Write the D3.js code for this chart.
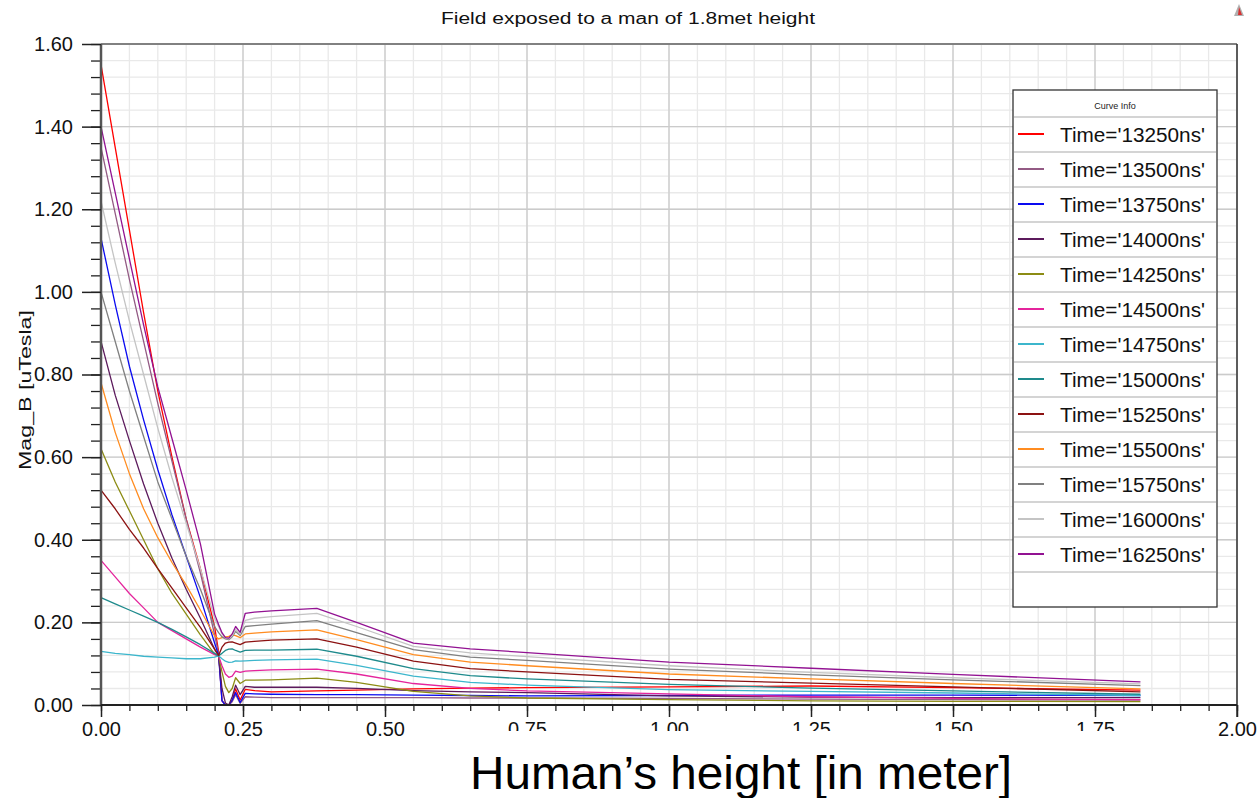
<!DOCTYPE html>
<html>
<head>
<meta charset="utf-8">
<script src="https://cdn.jsdelivr.net/npm/d3@7"></script>
<style>
    html, body { margin: 0; padding: 0; background: #fff; }
    svg { display: block; font-family: "Liberation Sans", Arial, sans-serif; }
</style>
</head>
<body>
<svg id="chart" width="1258" height="798"></svg>
<script>
//  heights along the man [m] where each curve is sampled
const heights = [0, 0.025, 0.05, 0.075, 0.1, 0.125, 0.15, 0.175, 0.2, 0.207, 0.213, 0.219, 0.225, 0.231, 0.237,
    0.245, 0.254, 0.27, 0.3, 0.38, 0.45, 0.55, 0.65, 0.75, 1.0, 1.25, 1.5, 1.83];

//  Mag_B [uTesla], one array per time step
const t13250 = [1.55, 1.35, 1.15, 0.95, 0.76, 0.60, 0.45, 0.33, 0.19, 0.13, 0.01, 0.0, 0.0, 0.01, 0.039,
    0.012, 0.038, 0.035, 0.032, 0.034, 0.036, 0.039, 0.041, 0.042, 0.044, 0.046, 0.042, 0.036];
const t13500 = [1.35, 1.19, 1.03, 0.88, 0.73, 0.59, 0.45, 0.32, 0.17, 0.125, 0.012, 0.0, 0.0, 0.008, 0.025,
    0.004, 0.02, 0.019, 0.018, 0.018, 0.018, 0.018, 0.017, 0.017, 0.016, 0.014, 0.013, 0.012];
const t13750 = [1.13, 0.97, 0.82, 0.69, 0.57, 0.46, 0.36, 0.26, 0.15, 0.12, 0.01, 0.0, 0.0, 0.012, 0.03,
    0.006, 0.028, 0.027, 0.026, 0.025, 0.025, 0.024, 0.023, 0.022, 0.023, 0.024, 0.024, 0.023];
const t14000 = [0.88, 0.75, 0.64, 0.535, 0.44, 0.355, 0.28, 0.21, 0.135, 0.119, 0.04, 0.005, 0.0, 0.02, 0.048,
    0.025, 0.045, 0.043, 0.043, 0.043, 0.04, 0.035, 0.032, 0.030, 0.022, 0.019, 0.018, 0.018];
const t14250 = [0.62, 0.54, 0.47, 0.40, 0.33, 0.27, 0.22, 0.17, 0.123, 0.119, 0.08, 0.045, 0.03, 0.04, 0.066,
    0.052, 0.06, 0.06, 0.061, 0.065, 0.055, 0.033, 0.022, 0.017, 0.013, 0.010, 0.009, 0.008];
const t14500 = [0.35, 0.31, 0.27, 0.235, 0.20, 0.18, 0.16, 0.14, 0.122, 0.119, 0.095, 0.075, 0.067, 0.07, 0.082,
    0.079, 0.082, 0.083, 0.085, 0.087, 0.075, 0.052, 0.040, 0.034, 0.027, 0.020, 0.016, 0.013];
const t14750 = [0.13, 0.125, 0.122, 0.118, 0.116, 0.114, 0.112, 0.112, 0.116, 0.119, 0.112, 0.106, 0.103, 0.104, 0.107,
    0.106, 0.107, 0.108, 0.109, 0.111, 0.096, 0.07, 0.055, 0.048, 0.037, 0.033, 0.029, 0.023];
const t15000 = [0.26, 0.245, 0.23, 0.215, 0.20, 0.183, 0.165, 0.146, 0.125, 0.119, 0.125, 0.132, 0.135, 0.136, 0.132,
    0.128, 0.132, 0.133, 0.133, 0.135, 0.118, 0.088, 0.071, 0.063, 0.050, 0.041, 0.034, 0.026];
const t15250 = [0.52, 0.475, 0.425, 0.38, 0.33, 0.283, 0.235, 0.188, 0.135, 0.12, 0.14, 0.15, 0.152, 0.153, 0.15,
    0.146, 0.152, 0.154, 0.157, 0.16, 0.14, 0.106, 0.088, 0.080, 0.062, 0.053, 0.044, 0.032];
const t15500 = [0.78, 0.66, 0.56, 0.475, 0.405, 0.345, 0.29, 0.23, 0.167, 0.16, 0.163, 0.165, 0.166, 0.17, 0.168,
    0.163, 0.172, 0.174, 0.177, 0.182, 0.158, 0.122, 0.104, 0.095, 0.075, 0.063, 0.052, 0.039];
const t15750 = [1.00, 0.88, 0.76, 0.65, 0.54, 0.45, 0.36, 0.28, 0.19, 0.175, 0.165, 0.16, 0.158, 0.165, 0.178,
    0.168, 0.19, 0.192, 0.196, 0.204, 0.175, 0.134, 0.116, 0.108, 0.087, 0.073, 0.061, 0.047];
const t16000 = [1.22, 1.07, 0.93, 0.80, 0.67, 0.55, 0.44, 0.33, 0.21, 0.19, 0.172, 0.162, 0.16, 0.168, 0.183,
    0.172, 0.205, 0.21, 0.214, 0.222, 0.19, 0.142, 0.126, 0.117, 0.095, 0.079, 0.066, 0.051];
const t16250 = [1.40, 1.24, 1.08, 0.92, 0.77, 0.645, 0.52, 0.39, 0.22, 0.195, 0.175, 0.163, 0.162, 0.172, 0.19,
    0.176, 0.222, 0.225, 0.228, 0.234, 0.20, 0.150, 0.136, 0.127, 0.104, 0.089, 0.074, 0.056];

const curveNames = ["Time='13250ns'", "Time='13500ns'", "Time='13750ns'", "Time='14000ns'", "Time='14250ns'",
    "Time='14500ns'", "Time='14750ns'", "Time='15000ns'", "Time='15250ns'", "Time='15500ns'",
    "Time='15750ns'", "Time='16000ns'", "Time='16250ns'"];
const curveValues = [t13250, t13500, t13750, t14000, t14250, t14500, t14750, t15000, t15250, t15500, t15750, t16000, t16250];
const curveColors = ["#ff0000", "#935a84", "#0a0af0", "#5c1a5c", "#8c8c14", "#e4249c", "#3cb6cc",
    "#1e8a8c", "#8c1212", "#ff8c20", "#808080", "#c4c4c4", "#921292"];

const xMajor = [0, 0.25, 0.5, 0.75, 1.0, 1.25, 1.5, 1.75, 2.0];
const yMajor = [0, 0.2, 0.4, 0.6, 0.8, 1.0, 1.2, 1.4, 1.6];

const svg = d3.select("#chart");

const plot = { left: 101, right: 1237, top: 44, bottom: 705 };

const x = d3.scaleLinear().domain([0, 2]).range([plot.left, plot.right]);
const y = d3.scaleLinear().domain([0, 1.6]).range([plot.bottom, plot.top]);

const xMinor = d3.range(0, 2.0001, 0.05).map(d => +d.toFixed(2));
const yMinor = d3.range(0, 1.6001, 0.04).map(d => +d.toFixed(2));

//  grid
const grid = svg.append("g");
grid.selectAll(".vminor").data(xMinor).join("line")
    .attr("x1", d => x(d)).attr("x2", d => x(d)).attr("y1", plot.top).attr("y2", plot.bottom)
    .attr("stroke", "#e9e9e9").attr("stroke-width", 1.3);
grid.selectAll(".hminor").data(yMinor).join("line")
    .attr("x1", plot.left).attr("x2", plot.right).attr("y1", d => y(d)).attr("y2", d => y(d))
    .attr("stroke", "#e9e9e9").attr("stroke-width", 1.3);
grid.selectAll(".vmajor").data(xMajor).join("line")
    .attr("x1", d => x(d)).attr("x2", d => x(d)).attr("y1", plot.top).attr("y2", plot.bottom)
    .attr("stroke", "#cbcbcb").attr("stroke-width", 1.3);
grid.selectAll(".hmajor").data(yMajor).join("line")
    .attr("x1", plot.left).attr("x2", plot.right).attr("y1", d => y(d)).attr("y2", d => y(d))
    .attr("stroke", "#cbcbcb").attr("stroke-width", 1.3);

//  frame top and right
svg.append("line").attr("x1", plot.left).attr("x2", plot.right).attr("y1", plot.top).attr("y2", plot.top)
    .attr("stroke", "#666").attr("stroke-width", 1.5);
svg.append("line").attr("x1", plot.right).attr("x2", plot.right).attr("y1", plot.top).attr("y2", plot.bottom + 12)
    .attr("stroke", "#333").attr("stroke-width", 1.5);

//  curves
const line = d3.line()
    .x((d, i) => x(heights[i]))
    .y(d => y(d));

svg.append("g").selectAll("path").data(curveValues).join("path")
    .attr("d", d => line(d))
    .attr("fill", "none")
    .attr("stroke", (d, i) => curveColors[i])
    .attr("stroke-width", 1.3)
    .attr("stroke-linejoin", "round");

//  axes
const fmt = d3.format(".2f");

const yMinorAxis = svg.append("g").attr("transform", `translate(${plot.left},0)`)
    .call(d3.axisLeft(y).tickValues(yMinor).tickSize(10).tickFormat(""));
const yAxis = svg.append("g").attr("transform", `translate(${plot.left},0)`)
    .call(d3.axisLeft(y).tickValues(yMajor).tickSize(19).tickPadding(9).tickFormat(fmt));
const xMinorAxis = svg.append("g").attr("transform", `translate(0,${plot.bottom})`)
    .call(d3.axisBottom(x).tickValues(xMinor).tickSize(6).tickFormat(""));
const xAxis = svg.append("g").attr("transform", `translate(0,${plot.bottom})`)
    .call(d3.axisBottom(x).tickValues(xMajor).tickSize(12).tickPadding(5).tickFormat(fmt));

[yMinorAxis, xMinorAxis].forEach(g => {
    g.select(".domain").remove();
    g.selectAll(".tick line").attr("stroke", "#222").attr("stroke-width", 1.3);
});
[yAxis, xAxis].forEach(g => {
    g.selectAll(".tick line").attr("stroke", "#222").attr("stroke-width", 1.5);
    g.selectAll(".tick text").attr("fill", "#111").style("font-size", "20px")
        .style("font-family", "'Liberation Sans', Arial, sans-serif");
});
yAxis.select(".domain").attr("stroke", "#555").attr("stroke-width", 2.5).attr("d", `M0,${plot.top}V${plot.bottom}`);
xAxis.select(".domain").attr("stroke", "#222").attr("stroke-width", 2).attr("d", `M${plot.left},0H${plot.right}`);

//  title
svg.append("text").attr("x", 628).attr("y", 24).attr("text-anchor", "middle")
    .attr("textLength", 374).attr("lengthAdjust", "spacingAndGlyphs")
    .style("font-size", "16px").attr("fill", "#111")
    .text("Field exposed to a man of 1.8met height");

//  little marker in the corner
svg.append("path").attr("d", "M1239,4 L1244,16 L1234,16 Z").attr("fill", "#b0b0b0");
svg.append("path").attr("d", "M1239,7 L1242,15 L1238,15 Z").attr("fill", "#d83030");

//  y label
svg.append("text").attr("transform", "translate(31,390) rotate(-90)")
    .attr("text-anchor", "middle")
    .attr("textLength", 160).attr("lengthAdjust", "spacingAndGlyphs")
    .style("font-size", "17px").attr("fill", "#111")
    .text("Mag_B [uTesla]");

//  big x label on a white patch (it hides the lower half of some tick labels)
svg.append("rect").attr("x", 430).attr("y", 731).attr("width", 775).attr("height", 67).attr("fill", "#fff");
svg.append("text").attr("x", 470).attr("y", 789)
    .attr("textLength", 542).attr("lengthAdjust", "spacingAndGlyphs")
    .style("font-size", "46px").attr("fill", "#000")
    .text("Human\u2019s height [in meter]");

//  legend
const lg = { x: 1013, y: 90, w: 204, h: 517, headH: 27, rowH: 35 };
const legend = svg.append("g");
legend.append("rect").attr("x", lg.x).attr("y", lg.y).attr("width", lg.w).attr("height", lg.h)
    .attr("fill", "#fff").attr("stroke", "#333").attr("stroke-width", 1.3);
legend.append("text").attr("x", lg.x + lg.w / 2).attr("y", lg.y + 19).attr("text-anchor", "middle")
    .style("font-size", "9px").attr("fill", "#222").text("Curve Info");

const rowTop = i => lg.y + lg.headH + i * lg.rowH;
legend.selectAll(".sep").data(d3.range(curveNames.length + 1)).join("line")
    .attr("x1", lg.x + 1).attr("x2", lg.x + lg.w - 1)
    .attr("y1", i => rowTop(i)).attr("y2", i => rowTop(i))
    .attr("stroke", "#d4d4d4").attr("stroke-width", 2);

const rows = legend.selectAll(".row").data(curveNames).join("g")
    .attr("transform", (d, i) => `translate(0,${rowTop(i)})`);
rows.append("line").attr("x1", lg.x + 5).attr("x2", lg.x + 31).attr("y1", 17).attr("y2", 17)
    .attr("stroke", (d, i) => curveColors[i]).attr("stroke-width", 2);
rows.append("text").attr("x", lg.x + 47).attr("y", 25)
    .attr("textLength", 145).attr("lengthAdjust", "spacingAndGlyphs")
    .style("font-size", "20px").attr("fill", "#111")
    .text(d => d);
</script>
</body>
</html>
